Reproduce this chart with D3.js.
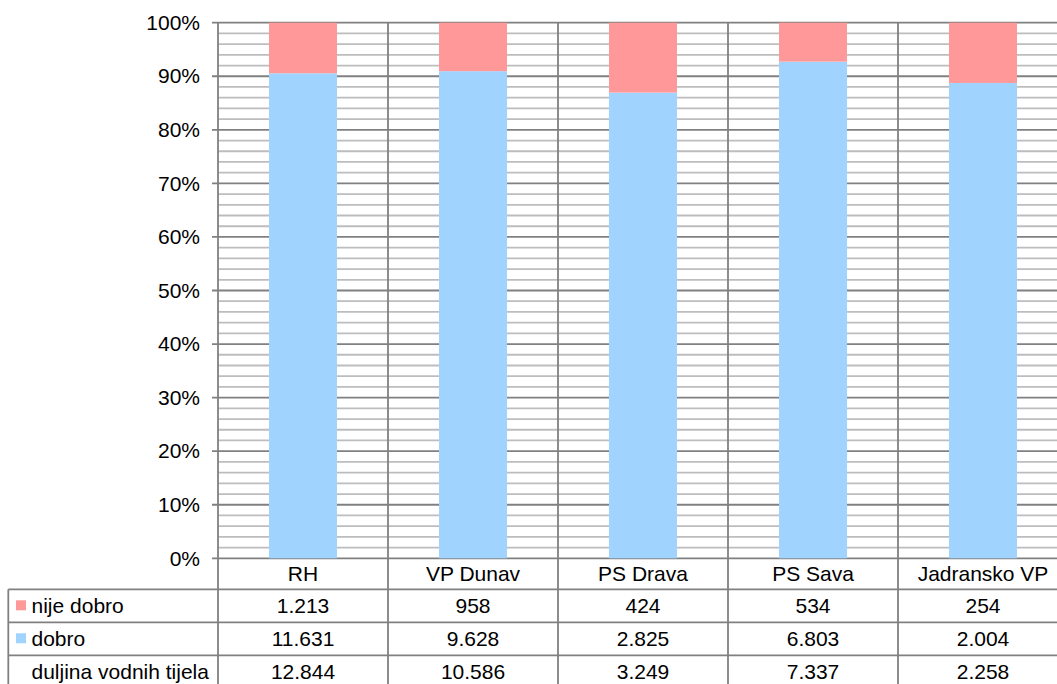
<!DOCTYPE html>
<html><head><meta charset="utf-8">
<script src="https://cdn.jsdelivr.net/npm/d3@7"></script>
<style>
html,body{margin:0;padding:0;background:#fff;}
svg{display:block;font-family:"Liberation Sans",Arial,sans-serif;}
</style></head>
<body>
<svg id="c" width="1057" height="684"></svg>
<script>
const categories = ["RH","VP Dunav","PS Drava","PS Sava","Jadransko VP"];
const nijeDobro = [1213, 958, 424, 534, 254];
const dobro = [11631, 9628, 2825, 6803, 2004];
const duljina = [12844, 10586, 3249, 7337, 2258];
const seriesNames = ["nije dobro","dobro","duljina vodnih tijela"];
const yTicks = [0,0.1,0.2,0.3,0.4,0.5,0.6,0.7,0.8,0.9,1.0];

const W = 1057, H = 684;
const plotL = 218, plotR = 1068, plotT = 22.7, plotB = 558.3;
const tableL = 8.3, rowH = 33;
const colBlue = "#A0D4FF", colPink = "#FF9999";
const majorCol = "#808080", minorCol = "#bdbdbd";
const fs = "21px";

const svg = d3.select("#c");
const x = d3.scaleBand().domain(categories).range([plotL, plotR]).paddingInner(0.6).paddingOuter(0.3);
const y = d3.scaleLinear().domain([0,1]).range([plotB, plotT]);
const step = x.step();
const locale = d3.formatLocale({decimal:",", thousands:".", grouping:[3], currency:["",""]});
const fmt = locale.format(",d");

// major grid lines
const major = svg.append("g");
major.selectAll("line").data(yTicks).join("line")
  .attr("x1", plotL - 6).attr("x2", W).attr("y1", d => y(d)).attr("y2", d => y(d))
  .attr("stroke", majorCol).attr("stroke-width", 1.8);

// minor grid every 2%
const minor = d3.range(0, 101, 2).filter(v => v % 10 !== 0).map(v => v/100);
svg.append("g").selectAll("line").data(minor).join("line")
  .attr("x1", plotL).attr("x2", W).attr("y1", d => y(d)).attr("y2", d => y(d))
  .attr("stroke", minorCol).attr("stroke-width", 1.8);

// bars
const data = categories.map((c,i) => ({c, dobro: dobro[i], nije: nijeDobro[i], tot: dobro[i] + nijeDobro[i]}));
const g = svg.append("g");
g.selectAll("rect.d").data(data).join("rect").attr("class","d")
  .attr("x", d => x(d.c)).attr("width", x.bandwidth())
  .attr("y", d => y(d.dobro/d.tot)).attr("height", d => y(0) - y(d.dobro/d.tot))
  .attr("fill", colBlue);
g.selectAll("rect.n").data(data).join("rect").attr("class","n")
  .attr("x", d => x(d.c)).attr("width", x.bandwidth())
  .attr("y", d => y(1)).attr("height", d => y(d.dobro/d.tot) - y(1))
  .attr("fill", colPink);

// y axis labels via d3 axis
const yAxis = d3.axisLeft(y).tickValues(yTicks).tickFormat(d3.format(".0%")).tickSize(0).tickPadding(18);
const ya = svg.append("g").attr("transform", `translate(${plotL},0)`).call(yAxis);
ya.select(".domain").remove();
ya.selectAll("text").attr("font-size", fs).attr("font-family", "Liberation Sans, Arial, sans-serif").attr("fill", "#000");

// vertical category boundary lines
const bounds = d3.range(0, categories.length).map(i => plotL + i*step);
const tableBottom = plotB + rowH*4 - 1;
svg.append("g").selectAll("line").data(bounds).join("line")
  .attr("x1", d => d).attr("x2", d => d).attr("y1", plotT).attr("y2", tableBottom)
  .attr("stroke", majorCol).attr("stroke-width", 1.8);

// table horizontal lines
const rowTops = [0,1,2,3].map(i => plotB + 31 + i*rowH);
svg.append("g").selectAll("line").data(rowTops).join("line")
  .attr("x1", tableL).attr("x2", W).attr("y1", d => d).attr("y2", d => d)
  .attr("stroke", majorCol).attr("stroke-width", 1.8);
svg.append("line").attr("x1", tableL).attr("x2", tableL).attr("y1", rowTops[0]).attr("y2", tableBottom)
  .attr("stroke", majorCol).attr("stroke-width", 1.8);

// category labels
svg.append("g").selectAll("text").data(categories).join("text")
  .attr("x", d => x(d) + x.bandwidth()/2).attr("y", plotB + 23)
  .attr("text-anchor", "middle").attr("font-size", fs).text(d => d);

// table rows
const rows = [
  {name: seriesNames[0], vals: nijeDobro, color: colPink},
  {name: seriesNames[1], vals: dobro, color: colBlue},
  {name: seriesNames[2], vals: duljina, color: null}
];
rows.forEach((r, ri) => {
  const top = rowTops[ri];
  const base = top + 24;
  if (r.color) {
    svg.append("rect").attr("x", 16).attr("y", top + 11).attr("width", 10).attr("height", 10).attr("fill", r.color);
  }
  svg.append("text").attr("x", 31.5).attr("y", base).attr("font-size", fs).text(r.name);
  svg.append("g").selectAll("text").data(r.vals).join("text")
    .attr("x", (d,i) => x(categories[i]) + x.bandwidth()/2).attr("y", base)
    .attr("text-anchor", "middle").attr("font-size", fs).text(d => fmt(d));
});
</script>
</body></html>
